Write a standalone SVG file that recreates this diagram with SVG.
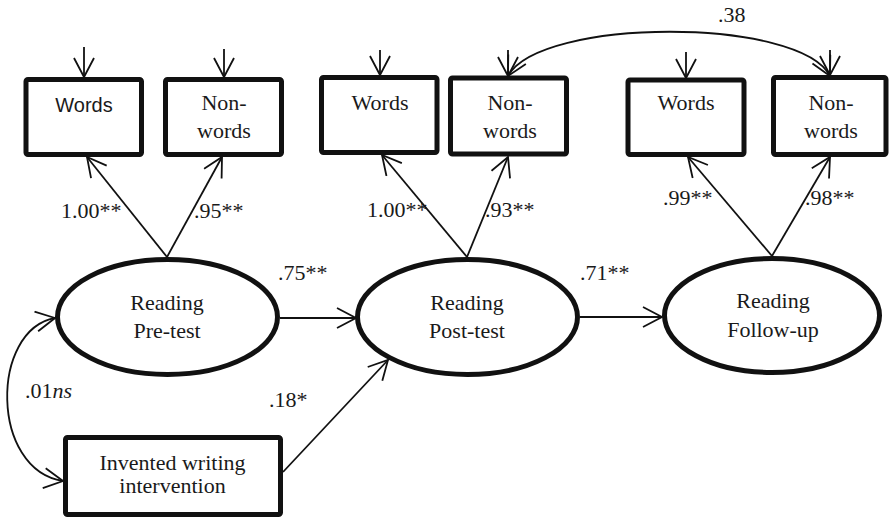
<svg xmlns="http://www.w3.org/2000/svg" width="889" height="518" viewBox="0 0 889 518">
<defs>
<marker id="arr" viewBox="0 0 22 22" refX="20" refY="11" markerWidth="22" markerHeight="22" orient="auto-start-reverse" markerUnits="userSpaceOnUse">
<path d="M1,1 L20,11 L1,21" fill="none" stroke="#111" stroke-width="1.8"/>
</marker>
</defs>
<style>
.box{fill:#fff;stroke:#111;stroke-width:5;stroke-linejoin:round}
.ell{fill:#fff;stroke:#111;stroke-width:5}
.ln{fill:none;stroke:#111;stroke-width:1.8;marker-end:url(#arr)}
.bi{fill:none;stroke:#111;stroke-width:1.8;marker-start:url(#arr);marker-end:url(#arr)}
.t{font-family:'Liberation Serif','Times New Roman',Tinos,'DejaVu Serif','Noto Serif',serif;font-size:22px;fill:#1a1a1a;text-anchor:middle}
.sans{font-family:'Liberation Sans',Arial,sans-serif;font-size:20px;fill:#1a1a1a;text-anchor:middle}
.lab{text-anchor:start}
</style>
<g id="connectors">
<line class="ln" x1="84" y1="47" x2="84" y2="77"/>
<line class="ln" x1="224" y1="49" x2="224" y2="77"/>
<line class="ln" x1="380" y1="50" x2="380" y2="75"/>
<line class="ln" x1="508" y1="50" x2="508" y2="76"/>
<line class="ln" x1="686" y1="52" x2="686" y2="78"/>
<line class="ln" x1="830" y1="50" x2="830" y2="75"/>
<path class="bi" d="M508 76 C540 17, 800 17, 830 76"/>
<line class="ln" x1="167" y1="257" x2="87" y2="157"/>
<line class="ln" x1="167" y1="257" x2="222" y2="157"/>
<line class="ln" x1="467" y1="257" x2="382" y2="155"/>
<line class="ln" x1="467" y1="257" x2="508" y2="157"/>
<line class="ln" x1="772" y1="256" x2="688" y2="157"/>
<line class="ln" x1="772" y1="256" x2="830" y2="157"/>
<line class="ln" x1="280" y1="318" x2="356" y2="318"/>
<line class="ln" x1="580" y1="317" x2="662" y2="317"/>
<line class="ln" x1="283" y1="472" x2="388" y2="360"/>
<path class="bi" d="M55 318 C-10 330, -10 470, 63 481"/>
</g>
<g id="pre-words"><rect class="box" x="26" y="79.5" width="115.5" height="75" rx="2"/><text class="sans" x="84" y="112">Words</text></g>
<g id="pre-nonwords"><rect class="box" x="165.5" y="79.5" width="116" height="75" rx="2"/><text class="t" x="224" y="110">Non-</text><text class="t" x="224" y="138">words</text></g>
<g id="post-words"><rect class="box" x="321.5" y="77.5" width="115.5" height="75" rx="2"/><text class="t" x="380" y="110">Words</text></g>
<g id="post-nonwords"><rect class="box" x="450.5" y="78" width="116" height="76" rx="2"/><text class="t" x="510" y="110">Non-</text><text class="t" x="510" y="138">words</text></g>
<g id="fu-words"><rect class="box" x="628" y="80" width="116" height="74.5" rx="2"/><text class="t" x="686" y="110">Words</text></g>
<g id="fu-nonwords"><rect class="box" x="773.5" y="77.5" width="112.5" height="77" rx="2"/><text class="t" x="831" y="110">Non-</text><text class="t" x="831" y="138">words</text></g>
<g id="reading-pre"><ellipse class="ell" cx="167.5" cy="317" rx="110" ry="57.5"/><text class="t" x="167" y="310">Reading</text><text class="t" x="167" y="338">Pre-test</text></g>
<g id="reading-post"><ellipse class="ell" cx="467.5" cy="317" rx="110" ry="57.5"/><text class="t" x="467" y="310">Reading</text><text class="t" x="467" y="338">Post-test</text></g>
<g id="reading-fu"><ellipse class="ell" cx="772" cy="315.5" rx="107.5" ry="57"/><text class="t" x="773" y="308">Reading</text><text class="t" x="773" y="337">Follow-up</text></g>
<g id="intervention"><rect class="box" x="65.5" y="437.5" width="215" height="77" rx="2"/><text class="t" x="172.5" y="470">Invented writing</text><text class="t" x="172.5" y="493">intervention</text></g>
<g id="labels">
<text class="t lab" x="61" y="218">1.00**</text>
<text class="t lab" x="194" y="218">.95**</text>
<text class="t lab" x="367" y="217">1.00**</text>
<text class="t lab" x="485" y="217">.93**</text>
<text class="t lab" x="663" y="205">.99**</text>
<text class="t lab" x="805" y="205">.98**</text>
<text class="t lab" x="718" y="22">.38</text>
<text class="t lab" x="278" y="280">.75**</text>
<text class="t lab" x="580" y="280">.71**</text>
<text class="t lab" x="269" y="407">.18*</text>
<text class="t lab" x="25" y="398">.01<tspan font-style="italic">ns</tspan></text>
</g>
</svg>
